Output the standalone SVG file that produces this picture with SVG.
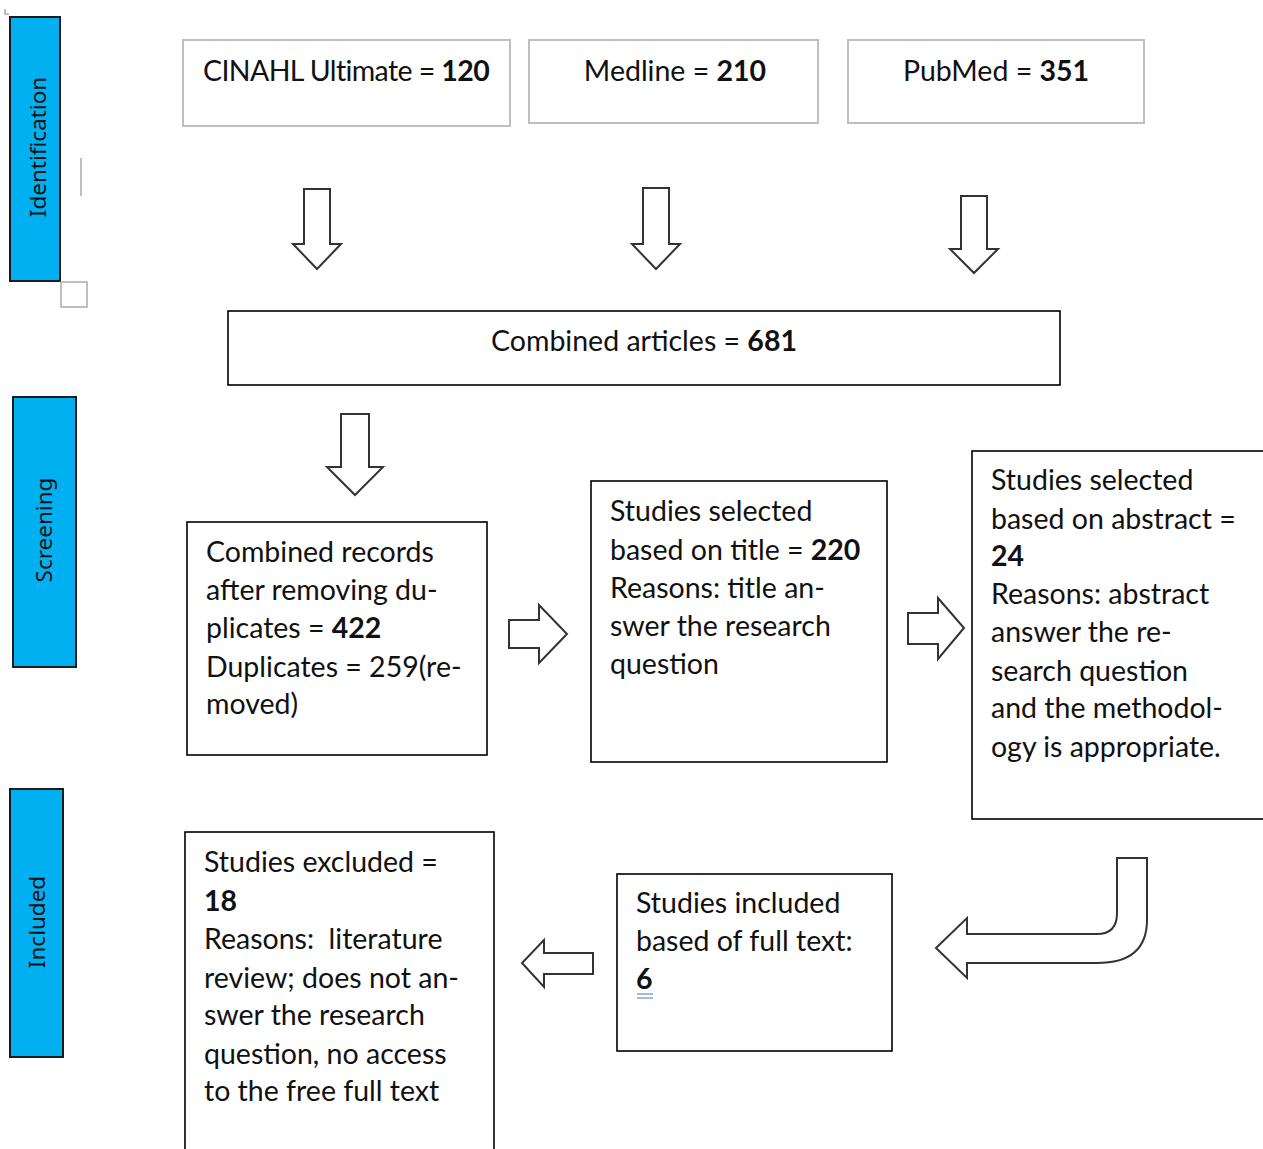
<svg xmlns="http://www.w3.org/2000/svg" width="1263" height="1149" viewBox="0 0 1263 1149">
<style>
.bar{fill:#00B0F0;stroke:#1a1a1a;stroke-width:2}
.bl{font-family:"Noto Sans","Open Sans",sans-serif;font-size:22.5px;fill:#111;text-anchor:middle}
.gbox{fill:#fff;stroke:#bfbfbf;stroke-width:2}
.box{fill:#fff;stroke:#000;stroke-width:1.6}
.t{font-family:Lato,"Open Sans",sans-serif;font-size:28.5px;fill:#111}
.b{font-weight:bold}
.arr{fill:#fff;stroke:#333;stroke-width:2;stroke-linejoin:miter}
</style>
<rect width="1263" height="1149" fill="#fff"/>
<g id="stage-identification">
<rect class="bar" x="10" y="17" width="50" height="264"/>
<text class="bl" transform="translate(46,147) rotate(-90)">Identification</text>
</g>
<g id="stage-screening">
<rect class="bar" x="13" y="397" width="63" height="270"/>
<text class="bl" transform="translate(52,530) rotate(-90)">Screening</text>
</g>
<g id="stage-included">
<rect class="bar" x="10" y="789" width="53" height="268"/>
<text class="bl" transform="translate(45,922) rotate(-90)">Included</text>
</g>
<g id="marks" fill="none" stroke="#aaa" stroke-width="1.5">
<path d="M5 9v5h4"/>
<line x1="81" y1="158" x2="81" y2="196"/>
<rect x="61" y="282" width="26" height="25"/>
</g>
<g id="n-cinahl">
<rect class="gbox" x="183" y="40" width="327" height="86"/>
<text class="t" x="203" y="81" style="letter-spacing:-0.6px">CINAHL Ultimate = <tspan class="b">120</tspan></text>
</g>
<g id="n-medline">
<rect class="gbox" x="529" y="40" width="289" height="83"/>
<text class="t" x="675" y="81" text-anchor="middle">Medline = <tspan class="b">210</tspan></text>
</g>
<g id="n-pubmed">
<rect class="gbox" x="848" y="40" width="296" height="83"/>
<text class="t" x="996" y="81" text-anchor="middle">PubMed = <tspan class="b">351</tspan></text>
</g>
<g id="n-combined">
<rect class="box" x="228" y="311" width="832" height="74"/>
<text class="t" x="644" y="351" text-anchor="middle">Combined articles = <tspan class="b">681</tspan></text>
</g>
<g id="n-records">
<rect class="box" x="187" y="522" width="300" height="233"/>
<text class="t" x="206" y="562">Combined records</text>
<text class="t" x="206" y="600">after removing du-</text>
<text class="t" x="206" y="638">plicates = <tspan class="b">422</tspan></text>
<text class="t" x="206" y="677">Duplicates = 259(re-</text>
<text class="t" x="206" y="714">moved)</text>
</g>
<g id="n-title">
<rect class="box" x="591" y="481" width="296" height="281"/>
<text class="t" x="610" y="521">Studies selected</text>
<text class="t" x="610" y="560">based on title = <tspan class="b">220</tspan></text>
<text class="t" x="610" y="598">Reasons: title an-</text>
<text class="t" x="610" y="636">swer the research</text>
<text class="t" x="610" y="674">question</text>
</g>
<g id="n-abstract">
<rect class="box" x="972" y="451" width="300" height="368"/>
<text class="t" x="991" y="490">Studies selected</text>
<text class="t" x="991" y="529">based on abstract =</text>
<text class="t b" x="991" y="566">24</text>
<text class="t" x="991" y="604">Reasons: abstract</text>
<text class="t" x="991" y="642">answer the re-</text>
<text class="t" x="991" y="681">search question</text>
<text class="t" x="991" y="718">and the methodol-</text>
<text class="t" x="991" y="757">ogy is appropriate.</text>
</g>
<g id="n-fulltext">
<rect class="box" x="617" y="874" width="275" height="177"/>
<text class="t" x="636" y="913">Studies included</text>
<text class="t" x="636" y="951">based of full text:</text>
<text class="t b" x="636" y="989">6</text>
<path d="M637 994h16M637 998h16" stroke="#4472C4" stroke-width="1.2"/>
</g>
<g id="n-excluded">
<rect class="box" x="185" y="832" width="309" height="330"/>
<text class="t" x="204" y="872">Studies excluded =</text>
<text class="t b" x="204" y="911">18</text>
<text class="t" x="204" y="949" xml:space="preserve">Reasons:  literature</text>
<text class="t" x="204" y="988">review; does not an-</text>
<text class="t" x="204" y="1025">swer the research</text>
<text class="t" x="204" y="1064">question, no access</text>
<text class="t" x="204" y="1101">to the free full text</text>
</g>
<g id="connectors">
<path class="arr" d="M304 189h26v55h11l-24 25l-24-25h11z"/>
<path class="arr" d="M643 188h26v56h11l-24 25l-24-25h11z"/>
<path class="arr" d="M961 196h26v53h11l-24 24l-24-24h11z"/>
<path class="arr" d="M341 414h28v53h14l-28 28l-28-28h14z"/>
<path class="arr" d="M509 620h30v-15l28 29l-28 29v-15h-30z"/>
<path class="arr" d="M908 613h30v-15l26 30l-26 31v-15h-30z"/>
<path class="arr" d="M593 953v21h-49v13l-22-24l22-23v13z"/>
<path class="arr" d="M1117 858h30v62q0 43-50 43h-130v15l-31-30l31-30v16h130q20 0 20-21z"/>
</g>
</svg>
